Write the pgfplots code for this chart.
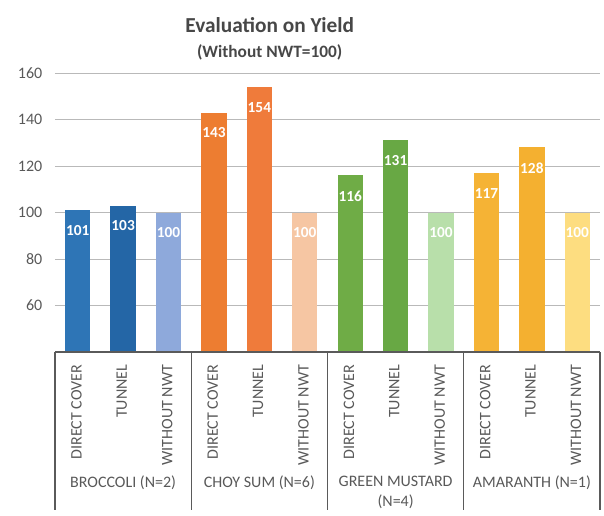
\documentclass[border=0pt]{standalone}
\usepackage{pgfplots}
\pgfplotsset{compat=1.18}
\usepackage{fontspec}
\setmainfont{Carlito}
\definecolor{bA}{HTML}{2E75B6}
\definecolor{bB}{HTML}{2466A6}
\definecolor{bC}{HTML}{8EA9DB}
\definecolor{cA}{HTML}{ED7D31}
\definecolor{cB}{HTML}{EF7B3B}
\definecolor{cC}{HTML}{F6C6A3}
\definecolor{gA}{HTML}{6FAC46}
\definecolor{gB}{HTML}{68A844}
\definecolor{gC}{HTML}{B8DFAA}
\definecolor{aA}{HTML}{F5B335}
\definecolor{aB}{HTML}{F4B030}
\definecolor{aC}{HTML}{FDDD80}
\definecolor{txt}{HTML}{595959}
\definecolor{sep}{HTML}{5A5A5A}
\begin{document}
\begin{tikzpicture}[x=1pt,y=1pt]
\useasboundingbox (-41.25,-122.25) rectangle (411.75,264);
\begin{axis}[
  at={(0,0)}, anchor=south west,
  scale only axis, width=408.75pt, height=209.25pt,
  xmin=-0.5, xmax=11.5, ymin=40, ymax=160,
  ybar, bar width=19pt,
  clip=false,
  /pgf/number format/assume math mode=true,
  axis line style={draw=none},
  major tick length=0pt,
  ymajorgrids, grid style={draw=gray!55, line width=0.6pt},
  ytick={60,80,100,120,140,160},
  yticklabel style={font=\fontsize{12}{14}\selectfont, text=txt, xshift=-6pt},
  xtick={0,...,11},
  xticklabels={DIRECT COVER,TUNNEL,WITHOUT NWT,DIRECT COVER,TUNNEL,WITHOUT NWT,DIRECT COVER,TUNNEL,WITHOUT NWT,DIRECT COVER,TUNNEL,WITHOUT NWT},
  xticklabel style={yshift=-6pt, xshift=-1pt, rotate=90, anchor=east, font=\fontsize{12}{14}\selectfont, text=txt},
  every axis plot/.append style={bar shift=0pt, draw=none},
  nodes near coords,
  nodes near coords style={anchor=north, yshift=-8pt, text=white, font=\fontsize{11.5}{13}\selectfont\bfseries},
]
\addplot[fill=bA] coordinates {(0,101)};
\addplot[fill=bB] coordinates {(1,103)};
\addplot[fill=bC] coordinates {(2,100)};
\addplot[fill=cA] coordinates {(3,143)};
\addplot[fill=cB] coordinates {(4,154)};
\addplot[fill=cC] coordinates {(5,100)};
\addplot[fill=gA] coordinates {(6,116)};
\addplot[fill=gB] coordinates {(7,131)};
\addplot[fill=gC] coordinates {(8,100)};
\addplot[fill=aA] coordinates {(9,117)};
\addplot[fill=aB] coordinates {(10,128)};
\addplot[fill=aC] coordinates {(11,100)};
\draw[sep, line width=0.8pt] (axis cs:-0.5,40) -- (axis cs:11.5,40);
\draw[sep, line width=0.8pt] (axis cs:-0.5,40) -- ([yshift=-118.5pt]axis cs:-0.5,40);
\draw[sep, line width=0.8pt] (axis cs:2.5,40) -- ([yshift=-118.5pt]axis cs:2.5,40);
\draw[sep, line width=0.8pt] (axis cs:5.5,40) -- ([yshift=-118.5pt]axis cs:5.5,40);
\draw[sep, line width=0.8pt] (axis cs:8.5,40) -- ([yshift=-118.5pt]axis cs:8.5,40);
\draw[sep, line width=0.8pt] (axis cs:11.5,40) -- ([yshift=-118.5pt]axis cs:11.5,40);
\node[anchor=north, inner sep=0pt, align=center, text=txt, font=\fontsize{12}{15}\selectfont] at ([yshift=-93pt]axis cs:1,40) {BROCCOLI (N=2)};
\node[anchor=north, inner sep=0pt, align=center, text=txt, font=\fontsize{12}{15}\selectfont] at ([yshift=-93pt]axis cs:4,40) {CHOY SUM (N=6)};
\node[anchor=north, inner sep=0pt, align=center, text=txt, font=\fontsize{12}{15}\selectfont] at ([yshift=-93pt]axis cs:7,40) {GREEN MUSTARD\\(N=4)};
\node[anchor=north, inner sep=0pt, align=center, text=txt, font=\fontsize{12}{15}\selectfont] at ([yshift=-93pt]axis cs:10,40) {AMARANTH (N=1)};
\end{axis}
\node[text=txt!80!black, font=\fontsize{16}{18}\selectfont\bfseries] at (161,245) {Evaluation on Yield};
\node[text=txt!80!black, font=\fontsize{13}{15}\selectfont\bfseries] at (161,225) {(Without NWT=100)};
\end{tikzpicture}
\end{document}
